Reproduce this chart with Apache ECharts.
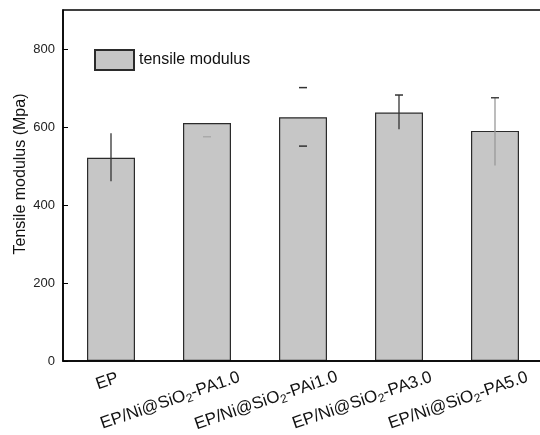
<!DOCTYPE html>
<html>
<head>
<meta charset="utf-8">
<script src="https://cdn.jsdelivr.net/npm/echarts@6/dist/echarts.min.js"></script>
<style>
  html, body { margin: 0; padding: 0; background: #fff; }
  #chart { width: 540px; height: 435px; }
</style>
</head>
<body>
<div id="chart"></div>
<script>
  // 数据
  var categories = ['EP', 'EP/Ni@SiO2-PA1.0', 'EP/Ni@SiO2-PAi1.0', 'EP/Ni@SiO2-PA3.0', 'EP/Ni@SiO2-PA5.0'];
  var modulus = [521, 610, 625, 637, 590];
  var errLow = [461, 575, 551, 594, 501];
  var errHigh = [584, 575, 701, 682, 675];
  var yTicks = [0, 200, 400, 600, 800];

  // 误差棒的画法(原图各不相同)
  var errLine = [true, false, false, true, true];
  var errCaps = ['none', 'top', 'both', 'top', 'top'];
  var errColor = ['#333', '#aaa', '#333', '#333', '#999'];

  var FONT = '"Liberation Sans", Arial, sans-serif';

  var xData = categories.map(function (name) {
    var long = name.length > 3;
    return {
      value: name,
      textStyle: {
        align: 'center',
        verticalAlign: 'middle',
        padding: long ? [15, 83, 0, 0] : [0, 8, 0, 0]
      }
    };
  });

  var option = {
    animation: false,
    grid: {
      left: 63, top: 10, width: 480, height: 351,
      outerBoundsMode: 'none',
      containLabel: false,
      show: true, borderColor: '#000', borderWidth: 1.5
    },
    legend: {
      left: 94, top: 49, padding: 0,
      icon: 'rect',
      itemWidth: 39, itemHeight: 20, itemGap: 5,
      data: ['tensile modulus'],
      textStyle: { fontFamily: FONT, fontSize: 16, color: '#111' }
    },
    xAxis: {
      type: 'category',
      data: xData,
      z: 5,
      axisLine: { lineStyle: { color: '#000', width: 1.5 } },
      axisTick: { inside: true, alignWithLabel: true, length: 6, lineStyle: { color: '#000' } },
      axisLabel: {
        interval: 0,
        rotate: 19,
        align: 'center',
        verticalAlign: 'middle',
        margin: 19,
        fontFamily: FONT,
        fontSize: 17,
        lineHeight: 21,
        color: '#111',
        formatter: function (v) {
          return v.replace('SiO2', 'SiO{s|2}');
        },
        rich: {
          s: { fontFamily: FONT, fontSize: 12, lineHeight: 12, verticalAlign: 'bottom', color: '#111' }
        }
      }
    },
    yAxis: {
      type: 'value',
      min: 0, max: 900, interval: 200,
      name: 'Tensile modulus (Mpa)',
      nameLocation: 'middle',
      nameGap: 34,
      nameMoveOverlap: false,
      nameTextStyle: { fontFamily: FONT, fontSize: 16, color: '#111', padding: [0, 0, 0, 23] },
      z: 5,
      splitLine: { show: false },
      axisLine: { show: true, lineStyle: { color: '#000', width: 1.5 } },
      axisTick: { show: true, inside: true, length: 5, lineStyle: { color: '#000' } },
      axisLabel: {
        showMaxLabel: false,
        margin: 8,
        fontFamily: FONT, fontSize: 13, color: '#222',
        formatter: function (v) { return yTicks.indexOf(v) >= 0 ? String(v) : ''; }
      }
    },
    series: [{
      name: 'tensile modulus',
      type: 'bar',
      barWidth: '50%',
      data: modulus,
      itemStyle: { color: '#c6c6c6', borderColor: '#2b2b2b', borderWidth: 1.2 }
    }, {
      type: 'custom',
      z: 4,
      data: categories.map(function (c, i) { return [i, errLow[i], errHigh[i]]; }),
      renderItem: function (params, api) {
        var i = api.value(0);
        var top = api.coord([i, api.value(2)]);
        var bot = api.coord([i, api.value(1)]);
        var half = 4;
        var color = errColor[i];
        var children = [];
        if (errLine[i]) {
          children.push({
            type: 'line',
            shape: { x1: top[0], y1: top[1], x2: bot[0], y2: bot[1] },
            style: { stroke: color, lineWidth: 1.3 }
          });
        }
        if (errCaps[i] === 'top' || errCaps[i] === 'both') {
          children.push({
            type: 'line',
            shape: { x1: top[0] - half, y1: top[1], x2: top[0] + half, y2: top[1] },
            style: { stroke: i === 4 ? '#444' : color, lineWidth: 1.5 }
          });
        }
        if (errCaps[i] === 'both') {
          children.push({
            type: 'line',
            shape: { x1: bot[0] - half, y1: bot[1], x2: bot[0] + half, y2: bot[1] },
            style: { stroke: color, lineWidth: 1.5 }
          });
        }
        return { type: 'group', children: children };
      }
    }]
  };

  echarts.init(document.getElementById('chart')).setOption(option);
</script>
</body>
</html>
